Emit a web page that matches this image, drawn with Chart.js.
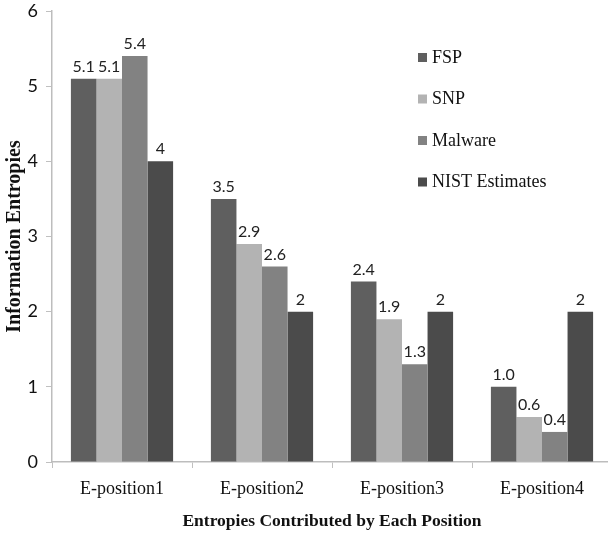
<!DOCTYPE html>
<html>
<head>
<meta charset="utf-8">
<script src="https://cdn.jsdelivr.net/npm/chart.js@4/dist/chart.umd.min.js"></script>
<style>
  html, body { margin: 0; padding: 0; background: #fff; overflow: hidden; }
  #wrap { width: 612px; height: 535px; }
</style>
</head>
<body>
<div id="wrap"><canvas id="c"></canvas></div>
<script>
const categories = ['E-position1', 'E-position2', 'E-position3', 'E-position4'];
const seriesNames = ['FSP', 'SNP', 'Malware', 'NIST Estimates'];
const fsp = [5.1, 3.5, 2.4, 1.0];
const snp = [5.1, 2.9, 1.9, 0.6];
const malware = [5.4, 2.6, 1.3, 0.4];
const nist = [4, 2, 2, 2];
const yTicks = [0, 1, 2, 3, 4, 5, 6];

const colors = ['#5f5f5f', '#b3b3b3', '#828282', '#4b4b4b'];
const decimals = [1, 1, 1, 0];
const seriesValues = [fsp, snp, malware, nist];

const serif = "'Liberation Serif', 'Times New Roman', serif";
const sans = "Lato, 'Open Sans', sans-serif";

// value labels above each bar
const valueLabels = {
  id: 'valueLabels',
  afterDatasetsDraw(chart) {
    const ctx = chart.ctx;
    ctx.save();
    ctx.font = '16px ' + sans;
    ctx.fillStyle = '#222';
    ctx.textAlign = 'center';
    ctx.textBaseline = 'alphabetic';
    chart.data.datasets.forEach((ds, i) => {
      chart.getDatasetMeta(i).data.forEach((bar, j) => {
        ctx.fillText(ds.data[j].toFixed(decimals[i]), bar.x, bar.y - 7);
      });
    });
    ctx.restore();
  }
};

// vertical legend in the upper right of the plot
const sideLegend = {
  id: 'sideLegend',
  afterDraw(chart) {
    const ctx = chart.ctx;
    ctx.save();
    ctx.font = '18px ' + serif;
    ctx.textBaseline = 'middle';
    ctx.textAlign = 'left';
    chart.data.datasets.forEach((ds, i) => {
      const cy = 57 + i * 41.5;
      ctx.fillStyle = ds.backgroundColor;
      ctx.fillRect(418, cy - 4, 9, 9);
      ctx.fillStyle = '#111';
      ctx.fillText(ds.label, 432, cy + 1);
    });
    ctx.restore();
  }
};

new Chart(document.getElementById('c'), {
  type: 'bar',
  data: {
    labels: categories,
    datasets: seriesNames.map((name, i) => ({
      label: name,
      data: seriesValues[i],
      backgroundColor: colors[i],
      borderWidth: 0,
      categoryPercentage: 0.73,
      barPercentage: 1.0
    }))
  },
  options: {
    responsive: true,
    maintainAspectRatio: false,
    animation: false,
    layout: { padding: { top: 11, left: 0, right: 0, bottom: 0 } },
    plugins: { legend: { display: false }, tooltip: { enabled: false } },
    scales: {
      x: {
        afterFit(scale) { scale.height = 73; },
        grid: { drawOnChartArea: false, drawTicks: true, tickLength: 6, color: '#c0c0c0', offset: true },
        border: { color: '#bdbdbd', width: 1.5 },
        ticks: { color: '#111', font: { family: serif, size: 18 }, padding: 10 },
        title: { display: true, text: 'Entropies Contributed by Each Position', color: '#111',
                 font: { family: serif, size: 17.5, weight: 'bold' }, padding: { top: 0, bottom: 3 } }
      },
      y: {
        min: 0, max: 6,
        afterFit(scale) { scale.width = 52; scale.paddingTop = 0; scale.paddingBottom = 0; },
        afterBuildTicks(scale) { scale.ticks = yTicks.map(v => ({ value: v })); },
        grid: { drawOnChartArea: false, drawTicks: true, tickLength: 6, color: '#c0c0c0' },
        border: { color: '#bdbdbd', width: 1.5 },
        ticks: { color: '#111', font: { family: sans, size: 18 }, padding: 8 },
        title: { display: true, text: 'Information Entropies', color: '#111',
                 font: { family: serif, size: 20, weight: 'bold' }, padding: { top: 3, bottom: 0 } }
      }
    }
  },
  plugins: [valueLabels, sideLegend]
});
</script>
</body>
</html>
